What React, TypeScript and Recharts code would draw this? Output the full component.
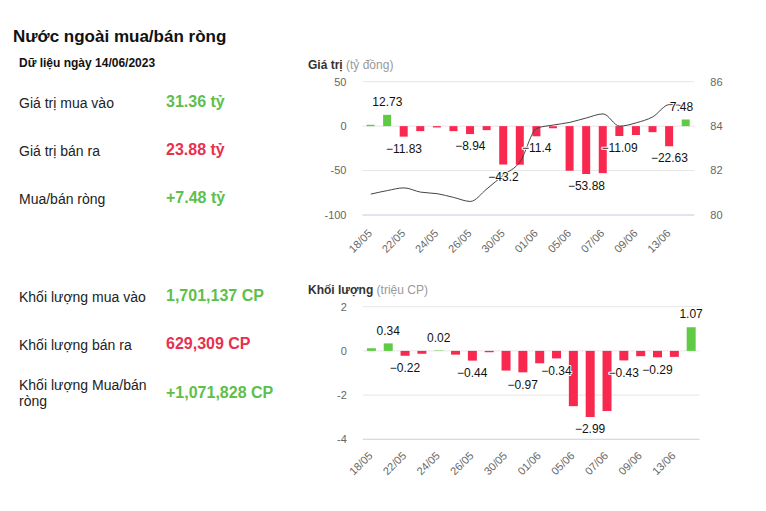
import React from "react";
import {
  ComposedChart,
  Bar,
  Line,
  XAxis,
  YAxis,
  CartesianGrid,
  Cell,
  LabelList,
} from "recharts";

const dates = [
  "18/05", "19/05", "22/05", "23/05", "24/05", "25/05", "26/05", "29/05", "30/05", "31/05",
  "01/06", "02/06", "05/06", "06/06", "07/06", "08/06", "09/06", "12/06", "13/06", "14/06",
];
// giá trị mua/bán ròng (tỷ đồng)
const netValue = [
  1.5, 12.73, -11.83, -5.6, -1.5, -5.6, -8.94, -4.5, -43.2, -43.4,
  -11.4, -2.5, -50.2, -53.88, -52.9, -11.09, -10.0, -6.8, -22.63, 7.48,
];
// đường giá (trục phải)
const priceLine = [
  80.94, 81.1, 81.22, 81.03, 80.96, 80.79, 80.61, 81.18, 81.8, 82.4,
  83.9, 84.05, 84.17, 84.37, 84.55, 84.0, 84.15, 84.42, 84.97, 84.9,
];
// khối lượng ròng (triệu CP)
const netVolume = [
  0.12, 0.34, -0.22, -0.13, 0.02, -0.17, -0.44, -0.06, -0.89, -0.97,
  -0.56, -0.34, -2.5, -2.99, -2.72, -0.43, -0.24, -0.29, -0.27, 1.07,
];
const valueLabelIdx = [1, 2, 6, 8, 10, 13, 15, 18, 19];
const volumeLabelIdx = [1, 2, 4, 6, 9, 11, 13, 15, 17, 19];
const valueTicks = [-100, -50, 0, 50];
const priceTicks = [80, 82, 84, 86];
const volumeTicks = [-4, -2, 0, 2];

const valueRows = [
  { label: "Giá trị mua vào", value: "31.36 tỷ", up: true },
  { label: "Giá trị bán ra", value: "23.88 tỷ", up: false },
  { label: "Mua/bán ròng", value: "+7.48 tỷ", up: true },
];
const volumeRows = [
  { label: "Khối lượng mua vào", value: "1,701,137 CP", up: true },
  { label: "Khối lượng bán ra", value: "629,309 CP", up: false },
  { label: "Khối lượng Mua/bán ròng", value: "+1,071,828 CP", up: true },
];

const GREEN = "#5fcb45";
const RED = "#f9284f";
const TXT_GREEN = "#5dbf4c";
const TXT_RED = "#e8304f";
const FONT = "'Liberation Sans', Arial, sans-serif";

const valueData = dates.map((d, i) => ({ date: d, net: netValue[i], price: priceLine[i] }));
const volumeData = dates.map((d, i) => ({ date: d, net: netVolume[i] }));

const fmt = (v: number) => (v < 0 ? "\u2212" + Math.abs(v) : String(v));

function makeLabel(shown: number[], maxX: number) {
  return (p: any) => {
    if (!shown.includes(p.index)) return null;
    const x = p.x ?? p.viewBox?.x;
    const y = p.y ?? p.viewBox?.y;
    const v = Number(p.value);
    const s = fmt(v);
    const w = s.length * 6.4;
    const cx = Math.min(x, maxX - w / 2);
    return (
      <text
        x={cx}
        y={y + (v < 0 ? 12 : -13)}
        dy="0.35em"
        textAnchor="middle"
        fontSize={12}
        fill="#111"
        stroke="#fff"
        strokeWidth={2}
        strokeLinejoin="round"
        paintOrder="stroke"
      >
        {s}
      </text>
    );
  };
}

function makeDateTick(dy: number) {
  return (p: any) => {
    const ax = p.x + 2;
    const ay = p.y + dy;
    return (
      <text
        x={ax}
        y={ay}
        transform={`rotate(-45 ${ax} ${ay})`}
        textAnchor="end"
        fontSize={11}
        fill="#666"
      >
        {p.payload.value}
      </text>
    );
  };
}

const tickStyle = { fontSize: 11, fill: "#666" };

function ValueChart() {
  return (
    <ComposedChart
      width={440}
      height={200}
      data={valueData}
      margin={{ top: 11.7, right: 5.7, bottom: 15, left: 12.5 }}
    >
      <CartesianGrid yAxisId="left" vertical={false} stroke="#e6e6e6" />
      <XAxis
        dataKey="date"
        interval={1}
        tickLine={false}
        axisLine={{ stroke: "#ccd6eb" }}
        height={40}
        tick={makeDateTick(11)}
      />
      <YAxis
        yAxisId="left"
        domain={[-100, 50]}
        ticks={valueTicks}
        axisLine={false}
        tickLine={false}
        width={50}
        tickMargin={10}
        tick={tickStyle}
      />
      <YAxis
        yAxisId="right"
        orientation="right"
        domain={[80, 86]}
        ticks={priceTicks}
        axisLine={false}
        tickLine={false}
        width={40}
        tickMargin={10}
        tick={tickStyle}
      />
      <Bar yAxisId="left" dataKey="net" barSize={8} isAnimationActive={false}>
        {valueData.map((d, i) => (
          <Cell key={i} fill={d.net >= 0 ? GREEN : RED} />
        ))}
      </Bar>
      <Line
        yAxisId="right"
        dataKey="price"
        type="monotone"
        stroke="#444"
        strokeWidth={1}
        dot={false}
        activeDot={false}
        isAnimationActive={false}
      />
      <Line
        yAxisId="left"
        dataKey="net"
        stroke="none"
        dot={false}
        activeDot={false}
        isAnimationActive={false}
      >
        <LabelList dataKey="net" content={makeLabel(valueLabelIdx, 394.3)} />
      </Line>
    </ComposedChart>
  );
}

function VolumeChart() {
  return (
    <ComposedChart
      width={445}
      height={205}
      data={volumeData}
      margin={{ top: 11.7, right: 45.5, bottom: 20.7, left: 12.9 }}
    >
      <CartesianGrid vertical={false} stroke="#e6e6e6" />
      <XAxis
        dataKey="date"
        interval={1}
        tickLine={false}
        axisLine={{ stroke: "#ccd6eb" }}
        height={40}
        tick={makeDateTick(9)}
      />
      <YAxis
        domain={[-4, 2]}
        ticks={volumeTicks}
        axisLine={false}
        tickLine={false}
        width={50}
        tickMargin={10}
        tick={tickStyle}
      />
      <Bar dataKey="net" barSize={9} isAnimationActive={false}>
        {volumeData.map((d, i) => (
          <Cell key={i} fill={d.net >= 0 ? GREEN : RED} />
        ))}
      </Bar>
      <Line
        dataKey="net"
        stroke="none"
        dot={false}
        activeDot={false}
        isAnimationActive={false}
      >
        <LabelList dataKey="net" content={makeLabel(volumeLabelIdx, 9999)} />
      </Line>
    </ComposedChart>
  );
}

const abs = (left: number, top: number): React.CSSProperties => ({
  position: "absolute",
  left,
  top,
  whiteSpace: "nowrap",
});

export default function App() {
  const valueBase = [107.4, 155.4, 204];
  const volBase = [301.5, 350];
  return (
    <div
      style={{
        position: "absolute",
        left: 0,
        top: 0,
        width: 766,
        height: 511,
        background: "#fff",
        fontFamily: FONT,
        color: "#222",
        overflow: "hidden",
      }}
    >
      <div style={{ ...abs(13, 26), fontSize: 17, fontWeight: 700, lineHeight: "22px", color: "#111" }}>
        Nước ngoài mua/bán ròng
      </div>
      <div style={{ ...abs(19, 54.8), fontSize: 12, fontWeight: 700, lineHeight: "16px", color: "#111" }}>
        Dữ liệu ngày 14/06/2023
      </div>

      {valueRows.map((r, i) => (
        <React.Fragment key={r.label}>
          <div style={{ ...abs(19, valueBase[i] - 14.85), fontSize: 14, lineHeight: "20px" }}>{r.label}</div>
          <div
            style={{
              ...abs(166, valueBase[i] - 15.55),
              fontSize: 16,
              fontWeight: 700,
              lineHeight: "20px",
              color: r.up ? TXT_GREEN : TXT_RED,
            }}
          >
            {r.value}
          </div>
        </React.Fragment>
      ))}

      {volumeRows.map((r, i) => {
        const last = i === 2;
        const base = last ? 390 : volBase[i];
        return (
          <React.Fragment key={r.label}>
            <div
              style={{
                ...abs(19, base - (last ? 12.85 : 14.85)),
                fontSize: 14,
                lineHeight: last ? "16px" : "20px",
                whiteSpace: last ? "normal" : "nowrap",
                width: last ? 135 : undefined,
              }}
            >
              {r.label}
            </div>
            <div
              style={{
                ...abs(166, (last ? 398.3 : base) - 15.55),
                fontSize: 16,
                fontWeight: 700,
                lineHeight: "20px",
                color: r.up ? TXT_GREEN : TXT_RED,
              }}
            >
              {r.value}
            </div>
          </React.Fragment>
        );
      })}

      <div style={{ ...abs(308, 57.8), fontSize: 12, lineHeight: "14px" }}>
        <b style={{ color: "#333" }}>Giá trị</b> <span style={{ color: "#999" }}>(tỷ đồng)</span>
      </div>
      <div style={{ ...abs(300, 70) }}>
        <ValueChart />
      </div>

      <div style={{ ...abs(308, 282.8), fontSize: 12, lineHeight: "14px" }}>
        <b style={{ color: "#333" }}>Khối lượng</b> <span style={{ color: "#999" }}>(triệu CP)</span>
      </div>
      <div style={{ ...abs(300, 295) }}>
        <VolumeChart />
      </div>
    </div>
  );
}
